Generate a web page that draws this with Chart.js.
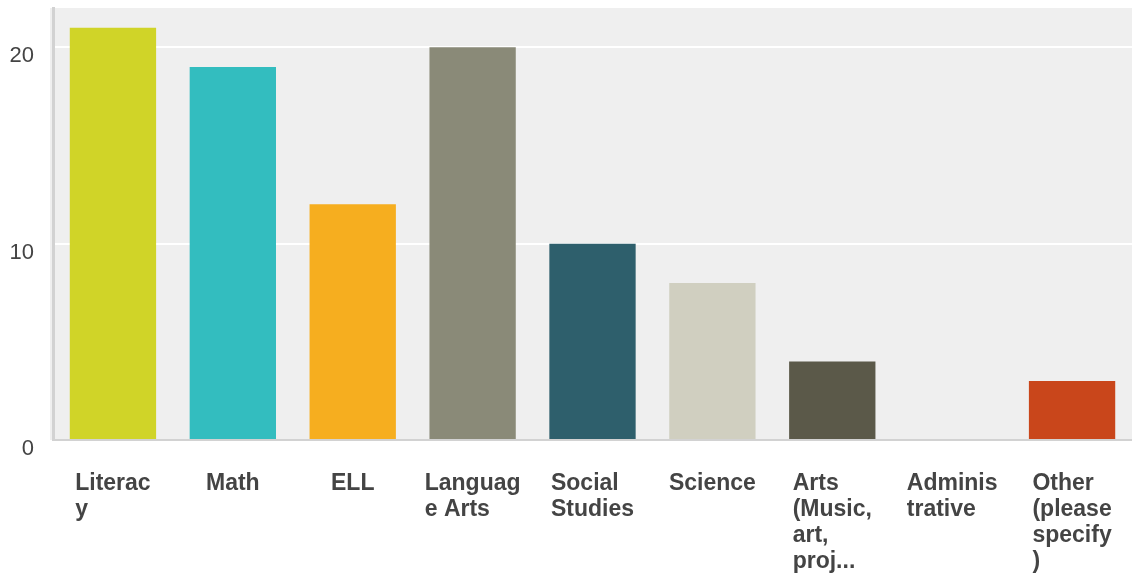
<!DOCTYPE html>
<html>
<head>
<meta charset="utf-8">
<script src="https://cdn.jsdelivr.net/npm/chart.js@4/dist/chart.umd.min.js"></script>
<style>
  html, body { margin: 0; padding: 0; background: #fff; }
  #wrap { width: 1132px; height: 573px; position: relative; }
</style>
</head>
<body>
<div id="wrap"><canvas id="chart"></canvas></div>
<script>
// survey answers, one entry per subject
const categories = [
  ['Literac', 'y'],
  ['Math'],
  ['ELL'],
  ['Languag', 'e Arts'],
  ['Social', 'Studies'],
  ['Science'],
  ['Arts', '(Music,', 'art,', 'proj...'],
  ['Adminis', 'trative'],
  ['Other', '(please', 'specify', ')'],
];
const responses = [21, 19, 12, 20, 10, 8, 4, 0, 3];
const barColors = ['#d0d428', '#33bdbf', '#f6ae1f', '#8a8a78', '#2e5f6c', '#d0cfc0', '#5b5949', '#8c8c8c', '#c9461b'];
const yTicks = [0, 10, 20];

const labelFont = 'bold 23px "Liberation Sans", Arial, sans-serif';

// grey plot background
const plotBg = {
  id: 'plotBg',
  beforeDraw(chart) {
    const { ctx, chartArea: a } = chart;
    ctx.save();
    ctx.fillStyle = '#efefef';
    ctx.fillRect(a.left - 3, a.top, a.right - a.left + 3, a.bottom - a.top);
    ctx.restore();
  },
};

// x labels: block centred under the bar, lines left aligned
const blockLabels = {
  id: 'blockLabels',
  afterDraw(chart) {
    const { ctx } = chart;
    const xs = chart.scales.x;
    ctx.save();
    ctx.font = labelFont;
    ctx.fillStyle = '#444';
    ctx.textBaseline = 'alphabetic';
    ctx.textAlign = 'left';
    categories.forEach((lines, i) => {
      const w = Math.max(...lines.map((l) => ctx.measureText(l).width));
      const cx = xs.getPixelForTick(i);
      const left = cx - w / 2;
      lines.forEach((l, j) => {
        ctx.fillText(l, left, xs.top + 50 + j * 26);
      });
    });
    ctx.restore();
  },
};

new Chart(document.getElementById('chart'), {
  type: 'bar',
  data: {
    labels: categories.map((c) => c.join(' ')),
    datasets: [{
      data: responses,
      backgroundColor: barColors,
      borderWidth: 0,
      barPercentage: 0.72,
      categoryPercentage: 1,
    }],
  },
  options: {
    responsive: true,
    maintainAspectRatio: false,
    animation: false,
    layout: { padding: { top: 8, right: 0, left: 0, bottom: 0 } },
    plugins: { legend: { display: false }, tooltip: { enabled: false } },
    scales: {
      x: {
        grid: { display: false, drawTicks: false },
        border: { display: true, color: '#d2d2d2', width: 2 },
        ticks: { display: false },
        afterFit(scale) {
          scale.height = 133;
          scale.paddingLeft = 0;
          scale.paddingRight = 0;
        },
      },
      y: {
        min: 0,
        max: 22,
        afterBuildTicks(scale) { scale.ticks = yTicks.map((v) => ({ value: v })); },
        grid: {
          color: (c) => (c.tick && c.tick.value === 0 ? 'rgba(0,0,0,0)' : '#ffffff'),
          lineWidth: 2,
          drawTicks: false,
        },
        border: { display: true, color: '#d2d2d2', width: 3 },
        ticks: {
          color: '#444',
          padding: 19,
          labelOffset: 9,
          font: { family: '"Liberation Sans", Arial, sans-serif', size: 22 },
        },
        afterFit(scale) {
          scale.width = 53;
          scale.paddingTop = 0;
          scale.paddingBottom = 0;
        },
      },
    },
  },
  plugins: [plotBg, blockLabels],
});
</script>
</body>
</html>
